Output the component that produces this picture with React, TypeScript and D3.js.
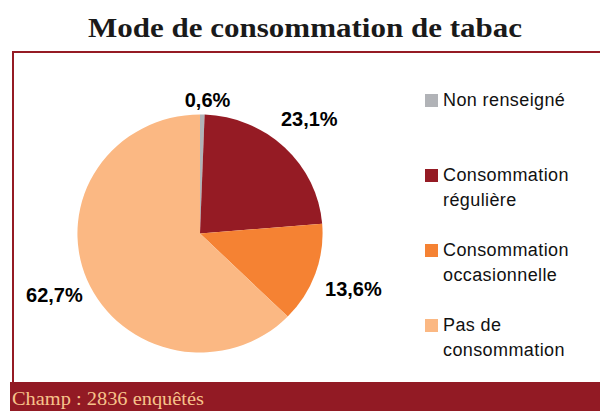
import React, { useEffect, useRef } from "react";
import * as d3 from "d3";

const categories = ["Non renseigné", "Consommation régulière", "Consommation occasionnelle", "Pas de consommation"];
const values = [0.6, 23.1, 13.6, 62.7];
const valueLabels = ["0,6%", "23,1%", "13,6%", "62,7%"];
const legendLines = [["Non renseigné"], ["Consommation", "régulière"], ["Consommation", "occasionnelle"], ["Pas de", "consommation"]];
const colors = ["#b1b3b7", "#951b24", "#f58233", "#fbb883"];

export default function App() {
  const ref = useRef<SVGSVGElement>(null);

  useEffect(() => {
    const width = 600;
    const height = 411;
    const svg = d3.select(ref.current);
    svg.selectAll("*").remove();

    const dark = "#951b24";

    // title
    svg.append("text")
      .attr("x", 305)
      .attr("y", 37)
      .attr("text-anchor", "middle")
      .attr("textLength", 434)
      .attr("lengthAdjust", "spacingAndGlyphs")
      .style("font-family", "'Liberation Serif', 'DejaVu Serif', serif")
      .style("font-weight", "bold")
      .style("font-size", "28px")
      .style("fill", "#1a1a1a")
      .text("Mode de consommation de tabac");

    // frame
    svg.append("path")
      .attr("d", `M13,382 V52 H${width}`)
      .attr("fill", "none")
      .attr("stroke", dark)
      .attr("stroke-width", 2);

    // footer band
    svg.append("rect")
      .attr("x", 10)
      .attr("y", 382)
      .attr("width", width - 10)
      .attr("height", height - 382)
      .attr("fill", "#921a24");

    svg.append("text")
      .attr("x", 12)
      .attr("y", 405)
      .attr("textLength", 192)
      .attr("lengthAdjust", "spacingAndGlyphs")
      .style("font-family", "'Liberation Serif', 'DejaVu Serif', serif")
      .style("font-size", "19px")
      .style("fill", "#f7c38b")
      .text("Champ : 2836 enquêtés");

    // pie (slightly wider than tall, as in the original)
    const cx = 200;
    const cy = 233.5;
    const r = 119;
    const pie = d3.pie<number>().sort(null).value(d => d);
    const arcs = pie(values);
    const arc = d3.arc<d3.PieArcDatum<number>>().innerRadius(0).outerRadius(r);

    const g = svg.append("g").attr("transform", `translate(${cx},${cy})`);
    g.append("g")
      .attr("transform", "scale(1.03,1)")
      .selectAll("path.slice")
      .data(arcs)
      .enter()
      .append("path")
      .attr("class", "slice")
      .attr("d", arc)
      .attr("fill", (d, i) => colors[i]);

    // label positions along each slice's mid angle
    const labelRadius = [134, 158, 163, 158];
    const labelArc = (i: number) => d3.arc<d3.PieArcDatum<number>>().innerRadius(labelRadius[i]).outerRadius(labelRadius[i]);
    g.selectAll("text.lbl")
      .data(arcs)
      .enter()
      .append("text")
      .attr("class", "lbl")
      .attr("transform", (d, i) => {
        const [x, y] = labelArc(i).centroid(d);
        return `translate(${x + (i === 0 ? 5 : 0)},${y})`;
      })
      .attr("text-anchor", "middle")
      .attr("dy", "0.35em")
      .style("font-family", "'Liberation Sans', Arial, sans-serif")
      .style("font-weight", "bold")
      .style("font-size", "20px")
      .style("fill", "#000")
      .text((d, i) => valueLabels[i]);

    // legend
    const legendY = d3.scalePoint<string>().domain(categories).range([106, 331]);
    const leg = svg.append("g");
    categories.forEach((c, i) => {
      const y = legendY(c) as number;
      leg.append("rect")
        .attr("x", 425)
        .attr("y", y - 12)
        .attr("width", 13)
        .attr("height", 13)
        .attr("fill", colors[i]);
      legendLines[i].forEach((line, j) => {
        leg.append("text")
          .attr("x", 443)
          .attr("y", y + j * 25)
          .style("font-family", "'Liberation Sans', Arial, sans-serif")
          .style("font-size", "18px")
          .style("letter-spacing", "0.4px")
          .style("fill", "#111")
          .text(line);
      });
    });
  }, []);

  return (
    <svg ref={ref} width={600} height={411} style={{ position: "absolute", left: 0, top: 0 }} />
  );
}
